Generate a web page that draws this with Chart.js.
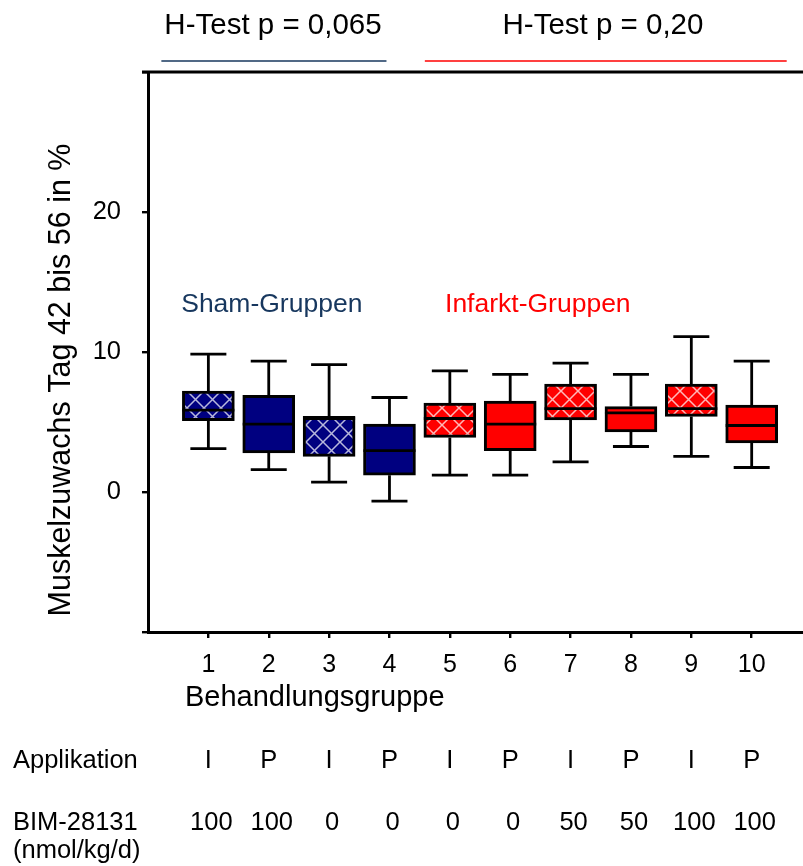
<!DOCTYPE html>
<html>
<head>
<meta charset="utf-8">
<script src="https://cdn.jsdelivr.net/npm/chart.js@4/dist/chart.umd.min.js"></script>
<style>
  html, body { margin: 0; padding: 0; background: #fff; }
  #wrap { width: 803px; height: 866px; }
</style>
</head>
<body>
<div id="wrap"><canvas id="chart" width="803" height="866"></canvas></div>
<script>
// Treatment groups and box-plot statistics (muscle gain, day 42 to 56, in %)
const groups       = ['1', '2', '3', '4', '5', '6', '7', '8', '9', '10'];
const whiskerLow   = [3.1, 1.6, 0.7, -0.65, 1.2, 1.2, 2.15, 3.25, 2.55, 1.75];
const quartile1    = [5.1, 2.8, 2.55, 1.2, 3.9, 2.95, 5.15, 4.3, 5.4, 3.5];
const medians      = [5.85, 4.85, 5.25, 2.95, 5.25, 4.85, 5.95, 5.65, 5.95, 4.75];
const quartile3    = [7.2, 6.9, 5.4, 4.85, 6.35, 6.5, 7.7, 6.1, 7.7, 6.2];
const whiskerHigh  = [9.85, 9.35, 9.1, 6.75, 8.65, 8.4, 9.2, 8.4, 11.1, 9.35];
const application  = ['I', 'P', 'I', 'P', 'I', 'P', 'I', 'P', 'I', 'P'];
const dose         = ['100', '100', '0', '0', '0', '0', '50', '50', '100', '100'];
const cohort       = ['sham', 'sham', 'sham', 'sham', 'inf', 'inf', 'inf', 'inf', 'inf', 'inf'];
const yTickLabels  = ['0', '10', '20'];
const hTests       = [
  { text: 'H-Test p = 0,065', cohort: 'sham', center: 273, from: -47, to: -3 },
  { text: 'H-Test p = 0,20',  cohort: 'inf',  center: 603, from: -25, to: 35 }
];

const FONT = "'Liberation Sans', Arial, Helvetica, sans-serif";
const NAVY = '#000080';
const RED = '#ff0000';
const SHAM_TEXT = '#17375e';

const canvas = document.getElementById('chart');
const ctx = canvas.getContext('2d');

// diagonal lattice fill for intermittent ("I") application
function lattice(base) {
  const s = 17;
  const c = document.createElement('canvas');
  c.width = s; c.height = s;
  const g = c.getContext('2d');
  g.fillStyle = base;
  g.fillRect(0, 0, s, s);
  g.strokeStyle = 'rgba(255,255,255,0.72)';
  g.lineWidth = 1.5;
  g.beginPath();
  g.moveTo(-2, -2); g.lineTo(s + 2, s + 2);
  g.moveTo(s + 2, -2); g.lineTo(-2, s + 2);
  g.stroke();
  return ctx.createPattern(c, 'repeat');
}

const baseColor = cohort.map(c => c === 'sham' ? NAVY : RED);
const fills = baseColor.map((col, i) => application[i] === 'I' ? lattice(col) : col);

// whiskers, caps and medians drawn from the same scales as the boxes
const boxExtras = {
  id: 'boxExtras',
  beforeDatasetsDraw(chart) {
    const { ctx, scales: { x, y } } = chart;
    ctx.save();
    ctx.strokeStyle = '#000';
    ctx.lineWidth = 2.8;
    groups.forEach((g, i) => {
      const px = x.getPixelForValue(i + 1);
      const half = 18;
      ctx.beginPath();
      ctx.moveTo(px, y.getPixelForValue(quartile3[i]));
      ctx.lineTo(px, y.getPixelForValue(whiskerHigh[i]));
      ctx.moveTo(px, y.getPixelForValue(quartile1[i]));
      ctx.lineTo(px, y.getPixelForValue(whiskerLow[i]));
      ctx.moveTo(px - half, y.getPixelForValue(whiskerHigh[i]));
      ctx.lineTo(px + half, y.getPixelForValue(whiskerHigh[i]));
      ctx.moveTo(px - half, y.getPixelForValue(whiskerLow[i]));
      ctx.lineTo(px + half, y.getPixelForValue(whiskerLow[i]));
      ctx.stroke();
    });
    ctx.restore();
  },
  afterDatasetsDraw(chart) {
    const { ctx, scales: { y } } = chart;
    const meta = chart.getDatasetMeta(0);
    ctx.save();
    ctx.strokeStyle = '#000';
    ctx.lineWidth = 2.8;
    meta.data.forEach((bar, i) => {
      const py = y.getPixelForValue(medians[i]);
      ctx.beginPath();
      ctx.moveTo(bar.x - bar.width / 2, py);
      ctx.lineTo(bar.x + bar.width / 2, py);
      ctx.stroke();
    });
    ctx.restore();
  }
};

// frame line, headers, group names and the table below the axis
const annotations = {
  id: 'annotations',
  afterDraw(chart) {
    const { ctx, chartArea: a, scales: { x, y } } = chart;
    ctx.save();

    // top frame line
    ctx.strokeStyle = '#000';
    ctx.lineWidth = 3;
    ctx.beginPath();
    ctx.moveTo(a.left - 6, a.top);
    ctx.lineTo(chart.width, a.top);
    ctx.stroke();

    // H-Test headers with coloured underlines
    hTests.forEach(h => {
      const idx = cohort.map((c, i) => c === h.cohort ? i : -1).filter(i => i >= 0);
      const first = x.getPixelForValue(idx[0] + 1);
      const last = x.getPixelForValue(idx[idx.length - 1] + 1);
      ctx.strokeStyle = h.cohort === 'sham' ? SHAM_TEXT : RED;
      ctx.lineWidth = 1.5;
      ctx.beginPath();
      ctx.moveTo(first + h.from, a.top - 11);
      ctx.lineTo(last + h.to, a.top - 11);
      ctx.stroke();
      ctx.fillStyle = '#000';
      ctx.font = '29.5px ' + FONT;
      ctx.textAlign = 'center';
      ctx.textBaseline = 'alphabetic';
      ctx.fillText(h.text, h.center, 34);
    });

    // group names inside the plot
    ctx.font = '26.5px ' + FONT;
    ctx.textAlign = 'left';
    ctx.textBaseline = 'alphabetic';
    ctx.fillStyle = SHAM_TEXT;
    ctx.fillText('Sham-Gruppen', x.getPixelForValue(0.55), y.getPixelForValue(12.85));
    ctx.fillStyle = RED;
    ctx.fillText('Infarkt-Gruppen', x.getPixelForValue(4.92), y.getPixelForValue(12.85));

    // y axis title
    ctx.save();
    ctx.fillStyle = '#000';
    ctx.font = '30.5px ' + FONT;
    ctx.translate(70, 380);
    ctx.rotate(-Math.PI / 2);
    ctx.textAlign = 'center';
    ctx.textBaseline = 'alphabetic';
    ctx.fillText('Muskelzuwachs Tag 42 bis 56 in %', 0, 0);
    ctx.restore();

    // x axis title
    ctx.fillStyle = '#000';
    ctx.font = '29px ' + FONT;
    ctx.textAlign = 'left';
    ctx.fillText('Behandlungsgruppe', 185, 706);

    // table rows
    ctx.font = '25.5px ' + FONT;
    ctx.fillText('Applikation', 13, 768);
    ctx.fillText('BIM-28131', 13, 830);
    ctx.fillText('(nmol/kg/d)', 13, 858);
    ctx.textAlign = 'center';
    groups.forEach((g, i) => {
      const px = x.getPixelForValue(i + 1);
      ctx.fillText(application[i], px, 768);
      ctx.fillText(dose[i], px + 3, 830);
    });

    ctx.restore();
  }
};

new Chart(canvas, {
  type: 'bar',
  data: {
    datasets: [{
      data: groups.map((g, i) => ({ x: i + 1, y: [quartile1[i], quartile3[i]] })),
      backgroundColor: fills,
      borderColor: '#000',
      borderWidth: 3,
      borderSkipped: false,
      barThickness: 52
    }]
  },
  options: {
    responsive: false,
    animation: false,
    devicePixelRatio: 1,
    layout: { padding: { top: 72, left: 0, right: 0, bottom: 0 } },
    plugins: { legend: { display: false }, tooltip: { enabled: false } },
    scales: {
      x: {
        type: 'linear',
        min: 0,
        max: 10.85,
        offset: false,
        afterFit(scale) { scale.height = 234; },
        afterBuildTicks(scale) { scale.ticks = groups.map((g, i) => ({ value: i + 1 })); },
        ticks: {
          autoSkip: false,
          maxRotation: 0,
          padding: 12,
          color: '#000',
          font: { family: FONT, size: 25 },
          callback: (v) => groups[v - 1]
        },
        grid: { offset: false, drawOnChartArea: false, drawTicks: true, tickLength: 6, color: '#000', lineWidth: 2.4 },
        border: { display: true, color: '#000', width: 3 }
      },
      y: {
        min: -10,
        max: 30,
        afterFit(scale) { scale.width = 148; },
        ticks: {
          stepSize: 10,
          padding: 21,
          color: '#000',
          font: { family: FONT, size: 25.5 },
          callback: (v) => yTickLabels.includes(String(v)) ? String(v) : ''
        },
        grid: { drawOnChartArea: false, drawTicks: true, tickLength: 6, color: '#000', lineWidth: 2.4 },
        border: { display: true, color: '#000', width: 3 }
      }
    }
  },
  plugins: [boxExtras, annotations]
});
</script>
</body>
</html>
